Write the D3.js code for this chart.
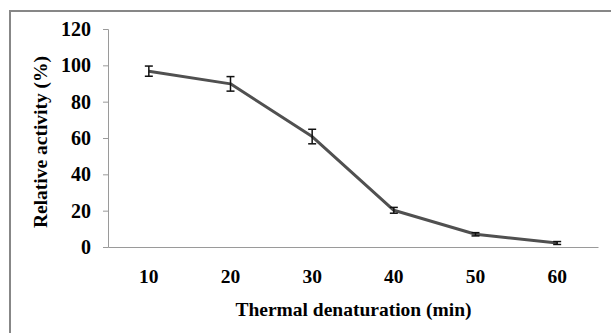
<!DOCTYPE html>
<html>
<head>
<meta charset="utf-8">
<script src="https://cdn.jsdelivr.net/npm/d3@7"></script>
<style>
html,body{margin:0;padding:0;background:#fff;}
svg{display:block;}
</style>
</head>
<body>
<svg id="chart" width="611" height="333"></svg>
<script>
const categories = [10, 20, 30, 40, 50, 60];
const activity = [96.8, 89.8, 60.8, 20.2, 7.0, 2.2];
const errors = [2.8, 4.0, 4.0, 1.6, 0.9, 0.8];
const yTicks = [0, 20, 40, 60, 80, 100, 120];
const xTitle = "Thermal denaturation (min)";
const yTitle = "Relative activity (%)";

const svg = d3.select("#chart");
const font = "'Liberation Serif','Times New Roman',serif";

// outer frame
svg.append("rect").attr("x", 10).attr("y", 11).attr("width", 640).attr("height", 360)
  .attr("fill", "none").attr("stroke", "#878787").attr("stroke-width", 2);

const x = d3.scaleBand().domain(categories).range([108, 598]);
const y = d3.scaleLinear().domain([0, 120]).range([247, 29]);

const yAxis = svg.append("g").attr("transform", "translate(108,0)")
  .call(d3.axisLeft(y).tickValues(yTicks).tickSize(5).tickPadding(12));
yAxis.select(".domain").attr("stroke", "#9a9a9a");
yAxis.selectAll(".tick line").attr("stroke", "#9a9a9a");
yAxis.selectAll("text").attr("font-family", font).attr("font-weight", "bold")
  .attr("font-size", 20).attr("fill", "#000");

const xAxis = svg.append("g").attr("transform", "translate(0,247)")
  .call(d3.axisBottom(x).tickSize(0).tickPadding(22).tickSizeOuter(0));
xAxis.select(".domain").attr("stroke", "#9a9a9a");
xAxis.selectAll("text").attr("font-family", font).attr("font-weight", "bold")
  .attr("font-size", 19.5).attr("fill", "#000");

const cx = d => x(d) + x.bandwidth() / 2;

svg.append("path").datum(categories)
  .attr("fill", "none").attr("stroke", "#505050").attr("stroke-width", 3)
  .attr("stroke-linejoin", "round")
  .attr("d", d3.line().x(d => cx(d)).y((d, i) => y(activity[i])));

const eb = svg.append("g").attr("stroke", "#111").attr("stroke-width", 1.5);
categories.forEach((c, i) => {
  const xc = cx(c), lo = y(activity[i] - errors[i]), hi = y(activity[i] + errors[i]);
  eb.append("line").attr("x1", xc).attr("x2", xc).attr("y1", lo).attr("y2", hi);
  eb.append("line").attr("x1", xc - 4).attr("x2", xc + 4).attr("y1", lo).attr("y2", lo);
  eb.append("line").attr("x1", xc - 4).attr("x2", xc + 4).attr("y1", hi).attr("y2", hi);
});

svg.append("text").attr("x", 353.5).attr("y", 316).attr("text-anchor", "middle")
  .attr("font-family", font).attr("font-weight", "bold").attr("font-size", 19.5)
  .text(xTitle);

svg.append("text").attr("transform", "translate(47,142) rotate(-90)")
  .attr("text-anchor", "middle")
  .attr("font-family", font).attr("font-weight", "bold").attr("font-size", 19.5)
  .text(yTitle);
</script>
</body>
</html>
